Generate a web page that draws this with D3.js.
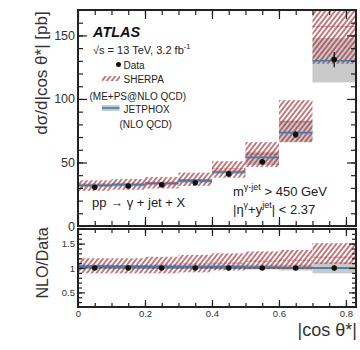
<!DOCTYPE html>
<html>
<head>
<meta charset="utf-8">
<script src="https://cdn.jsdelivr.net/npm/d3@7"></script>
<style>
  body { margin: 0; background: #fff; }
  svg { display: block; font-family: "Liberation Sans", Arial, sans-serif; }
</style>
</head>
<body>
<div id="chart"></div>
<script>
// bins in |cos theta*|
const binLo = [0, 0.1, 0.2, 0.3, 0.4, 0.5, 0.6, 0.7];
const binHi = [0.1, 0.2, 0.3, 0.4, 0.5, 0.6, 0.7, 0.83];
const dataX = [0.05, 0.15, 0.25, 0.35, 0.45, 0.55, 0.65, 0.765];

// main panel, pb
const dataVal = [30.5, 31.5, 32.5, 34, 41, 50.5, 72, 131];
const dataErr = [0.8, 0.8, 0.9, 1, 1.2, 1.6, 2.5, 6];
const jetphoxVal = [32, 32.5, 33.5, 35.5, 42.5, 54, 73.5, 130];
const jetphoxLo = [30.5, 31, 32, 34, 41, 48, 66, 113];
const jetphoxHi = [33.5, 34, 35, 37, 44, 58.5, 83, 148];
const sherpaVal = [32, 33, 34, 36.5, 45, 56.5, 82, 157];
const sherpaLo = [27.7, 28.5, 29.5, 31.5, 38, 46.5, 66, 127.7];
const sherpaHi = [36, 37, 38.5, 42, 51, 66, 99, 186];

// ratio panel, NLO/Data
const ratioDataErr = [0.02, 0.02, 0.02, 0.025, 0.025, 0.03, 0.035, 0.05];
const ratioJetphox = [1.035, 1.03, 1.03, 1.03, 1.03, 1.02, 1.01, 1.0];
const ratioJetphoxLo = [1.0, 1.0, 1.0, 1.0, 0.99, 0.97, 0.95, 0.89];
const ratioJetphoxHi = [1.07, 1.06, 1.06, 1.06, 1.07, 1.07, 1.07, 1.12];
const ratioSherpa = [1.05, 1.05, 1.06, 1.08, 1.1, 1.14, 1.16, 1.22];
const ratioSherpaLo = [0.89, 0.89, 0.89, 0.91, 0.95, 0.98, 0.98, 1.08];
const ratioSherpaHi = [1.2, 1.2, 1.23, 1.27, 1.3, 1.34, 1.37, 1.51];

const xMajor = [0, 0.2, 0.4, 0.6, 0.8];
const xMinor = d3.range(1, 17).map(i => i * 0.05);
const yMainMajor = [0, 50, 100, 150];
const yMainMinor = d3.range(1, 17).map(i => i * 10);
const yRatioMajor = [0.5, 1, 1.5];
const yRatioMinor = d3.range(3, 18).map(i => i / 10);

const W = 360, H = 350;
const left = 78, right = 356;
const main = {top: 10, bottom: 226};
const ratio = {top: 229, bottom: 307};

const svg = d3.select('#chart').append('svg')
  .attr('width', W).attr('height', H);

const defs = svg.append('defs');
defs.append('pattern')
  .attr('id', 'hatch')
  .attr('patternUnits', 'userSpaceOnUse')
  .attr('width', 3.8).attr('height', 3.8)
  .attr('patternTransform', 'rotate(38)')
  .append('line')
  .attr('x1', 1).attr('y1', 0).attr('x2', 1).attr('y2', 3.8)
  .attr('stroke', '#a5242a').attr('stroke-width', 1.2);
defs.append('clipPath').attr('id', 'clipMain')
  .append('rect').attr('x', left).attr('y', main.top)
  .attr('width', right - left).attr('height', main.bottom - main.top);
defs.append('clipPath').attr('id', 'clipRatio')
  .append('rect').attr('x', left).attr('y', ratio.top)
  .attr('width', right - left).attr('height', ratio.bottom - ratio.top);

const x = d3.scaleLinear().domain([0, 0.83]).range([left, right]);
const yMain = d3.scaleLinear().domain([0, 170]).range([main.bottom, main.top]);
const yRatio = d3.scaleLinear().domain([0.2, 1.8]).range([ratio.bottom, ratio.top]);

const idx = d3.range(binLo.length);

function drawPanel(clipId, y, p) {
  const g = svg.append('g').attr('clip-path', `url(#${clipId})`);

  // JETPHOX uncertainty
  g.selectAll('rect.jp').data(idx).enter().append('rect')
    .attr('class', 'jp')
    .attr('x', i => x(binLo[i]))
    .attr('width', i => x(binHi[i]) - x(binLo[i]))
    .attr('y', i => y(p.jpHi[i]))
    .attr('height', i => y(p.jpLo[i]) - y(p.jpHi[i]))
    .attr('fill', '#c9c9c9');

  // SHERPA hatched band
  g.selectAll('rect.sh').data(idx).enter().append('rect')
    .attr('class', 'sh')
    .attr('x', i => x(binLo[i]))
    .attr('width', i => x(binHi[i]) - x(binLo[i]))
    .attr('y', i => y(p.shHi[i]))
    .attr('height', i => y(p.shLo[i]) - y(p.shHi[i]))
    .attr('fill', 'url(#hatch)');

  g.selectAll('line.shc').data(idx).enter().append('line')
    .attr('class', 'shc')
    .attr('x1', i => x(binLo[i])).attr('x2', i => x(binHi[i]))
    .attr('y1', i => y(p.sh[i])).attr('y2', i => y(p.sh[i]))
    .attr('stroke', '#a5242a').attr('stroke-width', 1)
    .attr('stroke-dasharray', '3,1')
    .attr('opacity', 0.5);

  if (p.unity) {
    g.append('line')
      .attr('x1', left).attr('x2', right)
      .attr('y1', y(1)).attr('y2', y(1))
      .attr('stroke', '#222').attr('stroke-width', 0.8);
  }

  // JETPHOX central
  g.selectAll('line.jpc').data(idx).enter().append('line')
    .attr('class', 'jpc')
    .attr('x1', i => x(binLo[i])).attr('x2', i => x(binHi[i]))
    .attr('y1', i => y(p.jp[i])).attr('y2', i => y(p.jp[i]))
    .attr('stroke', '#3a7db5').attr('stroke-width', 1.6);

  // data
  g.selectAll('line.err').data(idx).enter().append('line')
    .attr('class', 'err')
    .attr('x1', i => x(dataX[i])).attr('x2', i => x(dataX[i]))
    .attr('y1', i => y(p.d[i] - p.dErr[i])).attr('y2', i => y(p.d[i] + p.dErr[i]))
    .attr('stroke', '#111').attr('stroke-width', 1.2);
  g.selectAll('circle.pt').data(idx).enter().append('circle')
    .attr('class', 'pt')
    .attr('cx', i => x(dataX[i]))
    .attr('cy', i => y(p.d[i]))
    .attr('r', 2.8)
    .attr('fill', '#111');
}

drawPanel('clipMain', yMain, {
  jp: jetphoxVal, jpLo: jetphoxLo, jpHi: jetphoxHi,
  sh: sherpaVal, shLo: sherpaLo, shHi: sherpaHi,
  d: dataVal, dErr: dataErr, unity: false
});
drawPanel('clipRatio', yRatio, {
  jp: ratioJetphox, jpLo: ratioJetphoxLo, jpHi: ratioJetphoxHi,
  sh: ratioSherpa, shLo: ratioSherpaLo, shHi: ratioSherpaHi,
  d: idx.map(() => 1), dErr: ratioDataErr, unity: true
});

// axes: ticks pointing inward on all four sides
function frameAxes(y, top, bottom, yMajor, yMinor, yFmt, yFont, showX, majLen, minLen) {
  const axes = [];
  axes.push(svg.append('g').attr('transform', `translate(0,${bottom})`)
    .call(d3.axisBottom(x).tickValues(xMinor).tickSize(-minLen).tickFormat('')));
  const xb = svg.append('g').attr('transform', `translate(0,${bottom})`)
    .call(d3.axisBottom(x).tickValues(xMajor).tickSize(-majLen).tickPadding(3)
      .tickFormat(showX ? d3.format('') : ''));
  xb.selectAll('text').attr('font-size', 9.5).attr('fill', '#333');
  axes.push(xb);
  axes.push(svg.append('g').attr('transform', `translate(0,${top})`)
    .call(d3.axisTop(x).tickValues(xMinor).tickSize(-minLen).tickFormat('')));
  axes.push(svg.append('g').attr('transform', `translate(0,${top})`)
    .call(d3.axisTop(x).tickValues(xMajor).tickSize(-majLen).tickFormat('')));

  axes.push(svg.append('g').attr('transform', `translate(${left},0)`)
    .call(d3.axisLeft(y).tickValues(yMinor).tickSize(-minLen).tickFormat('')));
  const yl = svg.append('g').attr('transform', `translate(${left},0)`)
    .call(d3.axisLeft(y).tickValues(yMajor).tickSize(-majLen).tickPadding(3).tickFormat(yFmt));
  yl.selectAll('text').attr('font-size', yFont).attr('fill', '#333');
  axes.push(yl);
  axes.push(svg.append('g').attr('transform', `translate(${right},0)`)
    .call(d3.axisRight(y).tickValues(yMinor).tickSize(-minLen).tickFormat('')));
  axes.push(svg.append('g').attr('transform', `translate(${right},0)`)
    .call(d3.axisRight(y).tickValues(yMajor).tickSize(-majLen).tickFormat('')));

  axes.forEach(a => {
    a.select('.domain').remove();
    a.selectAll('line').attr('stroke', '#222').attr('stroke-width', 1.2);
  });

  svg.append('rect')
    .attr('x', left).attr('y', top)
    .attr('width', right - left).attr('height', bottom - top)
    .attr('fill', 'none').attr('stroke', '#222').attr('stroke-width', 2);
}

frameAxes(yMain, main.top, main.bottom, yMainMajor, yMainMinor, d3.format(''), 12.5, false, 9, 5);
frameAxes(yRatio, ratio.top, ratio.bottom, yRatioMajor, yRatioMinor, d3.format(''), 9.5, true, 7, 4);

// axis titles
svg.append('text')
  .attr('transform', 'translate(47,73) rotate(-90)')
  .attr('text-anchor', 'middle')
  .attr('font-size', 17).attr('fill', '#333')
  .text('dσ/d|cos θ*| [pb]');
svg.append('text')
  .attr('transform', 'translate(48,263) rotate(-90)')
  .attr('text-anchor', 'middle')
  .attr('font-size', 16).attr('fill', '#333')
  .text('NLO/Data');
svg.append('text')
  .attr('x', 357).attr('y', 336)
  .attr('text-anchor', 'end')
  .attr('font-size', 18).attr('fill', '#333')
  .text('|cos θ*|');

// labels
svg.append('text')
  .attr('x', 93).attr('y', 36.5)
  .attr('font-size', 14.5).attr('font-weight', 'bold').attr('font-style', 'italic')
  .attr('fill', '#111')
  .text('ATLAS');
const sq = svg.append('text')
  .attr('x', 93).attr('y', 54).attr('font-size', 11).attr('fill', '#222');
sq.append('tspan').text('√s = 13 TeV, 3.2 fb');
sq.append('tspan').attr('dy', -5).attr('font-size', 7.5).text('-1');

// legend
svg.append('circle').attr('cx', 118.5).attr('cy', 64.5).attr('r', 2.5).attr('fill', '#111');
svg.append('text').attr('x', 123.5).attr('y', 68.5).attr('font-size', 10).attr('fill', '#222').text('Data');
svg.append('rect').attr('x', 102).attr('y', 76).attr('width', 18).attr('height', 5)
  .attr('fill', 'url(#hatch)');
svg.append('text').attr('x', 123.5).attr('y', 82.7).attr('font-size', 10).attr('fill', '#222').text('SHERPA');
svg.append('text').attr('x', 89.5).attr('y', 100).attr('font-size', 10).attr('fill', '#222').text('(ME+PS@NLO QCD)');
svg.append('rect').attr('x', 102).attr('y', 105).attr('width', 17.5).attr('height', 6).attr('fill', '#c9c9c9');
svg.append('line').attr('x1', 102).attr('x2', 119.5).attr('y1', 108).attr('y2', 108)
  .attr('stroke', '#3a7db5').attr('stroke-width', 1.6);
svg.append('text').attr('x', 123.5).attr('y', 112.7).attr('font-size', 10).attr('fill', '#222').text('JETPHOX');
svg.append('text').attr('x', 119.5).attr('y', 127.5).attr('font-size', 10).attr('fill', '#222').text('(NLO QCD)');

svg.append('text').attr('x', 92).attr('y', 207).attr('font-size', 13).attr('fill', '#222')
  .text('pp → γ + jet + X');

const m1 = svg.append('text').attr('x', 233).attr('y', 196).attr('font-size', 13).attr('fill', '#222');
m1.append('tspan').text('m');
m1.append('tspan').attr('dy', -6).attr('font-size', 9).text('γ-jet');
m1.append('tspan').attr('dy', 6).text(' > 450 GeV');
const m2 = svg.append('text').attr('x', 233).attr('y', 214).attr('font-size', 13).attr('fill', '#222');
m2.append('tspan').text('|η');
m2.append('tspan').attr('dy', -6).attr('font-size', 9).text('γ');
m2.append('tspan').attr('dy', 6).text('+y');
m2.append('tspan').attr('dy', -6).attr('font-size', 9).text('jet');
m2.append('tspan').attr('dy', 6).text('| < 2.37');
</script>
</body>
</html>
